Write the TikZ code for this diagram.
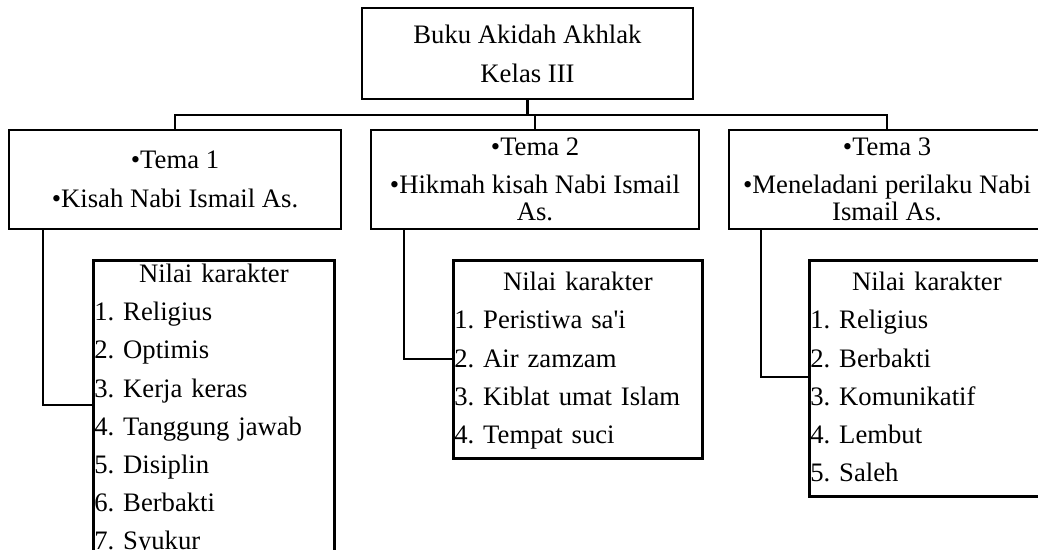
\documentclass[tikz,border=0pt]{standalone}
\usepackage{fontspec}
\setmainfont{Liberation Serif}
\usepackage{tikz}
\frenchspacing

\begin{document}
\begin{tikzpicture}[
    x=0.45pt, y=-0.45pt,
    root/.style={rectangle, draw, line width=1.2pt, align=center, minimum width=148.95pt, minimum height=40.95pt, font=\fontsize{12pt}{12.15pt}\selectfont},
    tema/.style={rectangle, draw, line width=1.2pt, align=center, minimum height=44.55pt, font=\fontsize{12pt}{12.15pt}\selectfont},
    nilai/.style={rectangle, draw, line width=1.2pt, anchor=north west, align=left, inner xsep=0.45pt, inner ysep=1.6pt, font=\fontsize{12pt}{17.2pt}\selectfont},
    link/.style={line width=1.2pt}
]
    \useasboundingbox (0,0) rectangle (1038,550);
    \clip (0,0) rectangle (1038,550);

    % Book
    \node[root] (buku) at (527.5,53.5) {Buku Akidah Akhlak\\[5.4pt]Kelas III};

    % Themes
    \node[tema, minimum width=149.4pt] (tema1) at (175,179.5) {•Tema 1\\[5.1pt]•Kisah Nabi Ismail As.};
    \node[tema, minimum width=147.6pt] (tema2) at (535,179.5) {•Tema 2\\[5.1pt]•Hikmah kisah Nabi Ismail\\As.};
    \node[tema, minimum width=142.2pt] (tema3) at (887,179.5) {•Tema 3\\[5.1pt]•Meneladani perilaku Nabi\\Ismail As.};

    % Character values
    \node[nilai, text width=107.55pt] (nilai1) at (92,259) {{\centering Nilai karakter\par}1. Religius\par 2. Optimis\par 3. Kerja keras\par 4. Tanggung jawab\par 5. Disiplin\par 6. Berbakti\par 7. Syukur\strut};
    \node[nilai, text width=111.15pt] (nilai2) at (452,259) {{\centering\strut Nilai karakter\par}1. Peristiwa sa\textquotesingle i\par 2. Air zamzam\par 3. Kiblat umat Islam\par 4. Tempat suci\strut};
    \node[nilai, text width=104.85pt] (nilai3) at (808,259) {{\centering\strut Nilai karakter\par}1. Religius\par 2. Berbakti\par 3. Komunikatif\par 4. Lembut\par 5. Saleh\strut};

    % Connectors
    \coordinate (bus) at (527.5,115);
    \coordinate (k1) at (43,405);
    \coordinate (k2) at (404,359);
    \coordinate (k3) at (761,377);

    \draw[link] (buku.south) -- (buku.south |- bus);
    \draw[link] (tema1.north) |- (bus) -| (tema3.north);
    \draw[link] (tema2.north) -- (tema2.north |- bus);
    \draw[link] (tema1.south -| k1) |- (nilai1.west |- k1);
    \draw[link] (tema2.south -| k2) |- (nilai2.west |- k2);
    \draw[link] (tema3.south -| k3) |- (nilai3.west |- k3);
\end{tikzpicture}
\end{document}
